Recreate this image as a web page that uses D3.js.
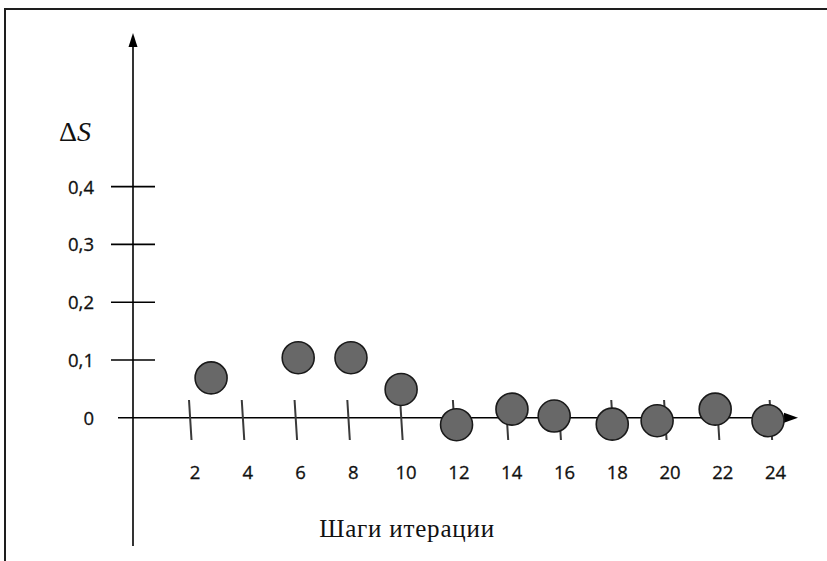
<!DOCTYPE html>
<html>
<head>
<meta charset="utf-8">
<script src="https://cdn.jsdelivr.net/npm/d3@7/dist/d3.min.js"></script>
<style>
  html, body { margin: 0; padding: 0; background: #fff; }
  svg { display: block; }
</style>
</head>
<body>
<svg id="chart" width="827" height="561"></svg>
<script>
// ---- data ----
const steps  = [2.8, 6.1, 8.1, 10.0, 12.1, 14.2, 15.8, 18.0, 19.7, 21.9, 23.9];
const deltaS = [0.069, 0.104, 0.104, 0.049, -0.012, 0.015, 0.003, -0.011, -0.005, 0.015, -0.005];
const xTicks = [2, 4, 6, 8, 10, 12, 14, 16, 18, 20, 22, 24];
const xTickLabels = ["2", "4", "6", "8", "10", "12", "14", "16", "18", "20", "22", "24"];
const yTicks = [0, 0.1, 0.2, 0.3, 0.4];
const yTickLabels = ["0", "0,1", "0,2", "0,3", "0,4"];
const xTitle = "Шаги итерации";
const yTitleA = "Δ";
const yTitleB = "S";

const svg = d3.select("#chart");

const x = d3.scaleLinear().domain([0, 24]).range([137.2, 770.6]);
const y = d3.scaleLinear().domain([0, 0.4]).range([417.8, 186.6]);

// frame
svg.append("path")
  .attr("d", "M5,561 V9 H827")
  .attr("fill", "none")
  .attr("stroke", "#1e1e1e")
  .attr("stroke-width", 2);

// y axis line + arrow
const axX = 133;
svg.append("line")
  .attr("x1", axX).attr("x2", axX)
  .attr("y1", 44).attr("y2", 546)
  .attr("stroke", "#000").attr("stroke-width", 1.6);
svg.append("path")
  .attr("d", `M${axX},33 L${axX - 4.5},47 L${axX + 4.5},47 Z`)
  .attr("fill", "#000");

// x axis line + arrow
const y0 = y(0);
svg.append("line")
  .attr("x1", 118).attr("x2", 787)
  .attr("y1", y0).attr("y2", y0)
  .attr("stroke", "#000").attr("stroke-width", 1.6);
svg.append("path")
  .attr("d", `M798,${y0} L784,${y0 - 5} L784,${y0 + 5} Z`)
  .attr("fill", "#000");

// y ticks
svg.selectAll(".ytick").data(yTicks.filter(d => d > 0)).enter()
  .append("line")
  .attr("class", "ytick")
  .attr("x1", 111).attr("x2", 155)
  .attr("y1", d => y(d)).attr("y2", d => y(d))
  .attr("stroke", "#000").attr("stroke-width", 1.6);

svg.selectAll(".ylab").data(yTicks).enter()
  .append("text")
  .attr("class", "ylab")
  .attr("x", 94)
  .attr("y", d => y(d) + 7)
  .attr("text-anchor", "end")
  .attr("font-family", "'Open Sans', sans-serif")
  .attr("font-size", 18.5)
  .attr("fill", "#111")
  .attr("stroke", "#111")
  .attr("stroke-width", 0.3)
  .text((d, i) => yTickLabels[i]);

// x ticks (slightly slanted, like the hand-drawn original)
svg.selectAll(".xtick").data(xTicks).enter()
  .append("line")
  .attr("class", "xtick")
  .attr("x1", d => x(d) - 1).attr("x2", d => x(d) + 1.5)
  .attr("y1", 400).attr("y2", 440)
  .attr("stroke", "#3a3a3a").attr("stroke-width", 2);

svg.selectAll(".xlab").data(xTicks).enter()
  .append("text")
  .attr("class", "xlab")
  .attr("x", d => x(d) + 5)
  .attr("y", 479)
  .attr("text-anchor", "middle")
  .attr("font-family", "'Open Sans', sans-serif")
  .attr("font-size", 18.5)
  .attr("fill", "#111")
  .attr("stroke", "#111")
  .attr("stroke-width", 0.3)
  .text((d, i) => xTickLabels[i]);

// points
svg.selectAll(".pt").data(steps.map((s, i) => ({ s, v: deltaS[i] }))).enter()
  .append("circle")
  .attr("class", "pt")
  .attr("cx", d => x(d.s))
  .attr("cy", d => y(d.v))
  .attr("r", 16)
  .attr("fill", "#686868")
  .attr("stroke", "#1a1a1a")
  .attr("stroke-width", 1.6);

// y title: ΔS
const yt = svg.append("text")
  .attr("x", 59).attr("y", 141)
  .attr("font-family", "'Liberation Serif', 'DejaVu Serif', serif")
  .attr("font-size", 28)
  .attr("fill", "#111");
yt.append("tspan").text(yTitleA);
yt.append("tspan").attr("font-style", "italic").text(yTitleB);

// x title
svg.append("text")
  .attr("x", 407).attr("y", 537)
  .attr("text-anchor", "middle")
  .attr("font-family", "'Liberation Serif', 'DejaVu Serif', serif")
  .attr("font-size", 25)
  .attr("letter-spacing", 0.8)
  .attr("fill", "#111")
  .text(xTitle);
</script>
</body>
</html>
